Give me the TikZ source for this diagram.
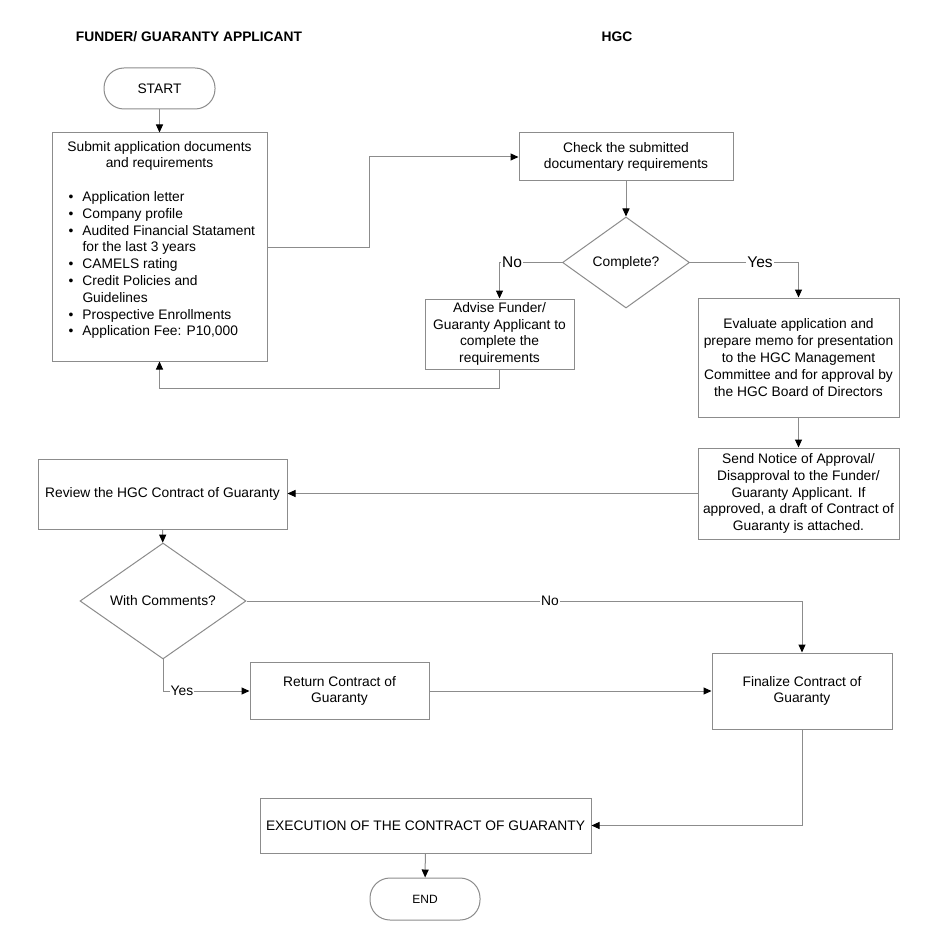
\documentclass[tikz,border=0pt]{standalone}
\usepackage{fontspec}
\setmainfont{Liberation Sans}
\usetikzlibrary{shapes.geometric,arrows.meta}
\definecolor{linegray}{RGB}{140,140,140}
\newcommand\bodyfont{\fontsize{13.8}{16.8}\selectfont}
\newcommand\labfont{\fontsize{15.5}{18}\selectfont}
\begin{document}
\begin{tikzpicture}[x=1pt,y=-1pt,
  box/.style={draw=linegray, line width=1pt, inner sep=0pt, align=center, font=\bodyfont},
  term/.style={box, rounded corners=20pt},
  decision/.style={box, diamond},
  conn/.style={draw=linegray, line width=1pt},
  arr/.style={conn, -{Triangle[length=8pt,width=7pt,color=black,fill=black]}},
  lab/.style={fill=white, inner sep=1pt, font=\bodyfont},
  biglab/.style={fill=white, inner sep=1pt, font=\labfont},
  title/.style={font=\bodyfont\bfseries, inner sep=0pt}]
\useasboundingbox (0,0) rectangle (939,941);
\fill[white] (0,0) rectangle (939,941);

\node[title] (t1) at (189,37) {FUNDER/ GUARANTY APPLICANT};
\node[title] (t2) at (617,37) {HGC};

\node[term, minimum width=111pt, minimum height=41pt] (start) at (159.5,88.5) {START};

\node[box, minimum width=215pt, minimum height=228pt] (submit) at (159.5,247)
{\begin{minipage}[c]{190pt}
{\centering Submit application documents\\and requirements\par}
\vspace{16.8pt}
\begin{tabular}[t]{@{}p{18pt}@{}l@{}}
\hspace*{4pt}\textbullet & Application letter\\
\hspace*{4pt}\textbullet & Company profile\\
\hspace*{4pt}\textbullet & Audited Financial Statament\\
 & for the last 3 years\\
\hspace*{4pt}\textbullet & CAMELS rating\\
\hspace*{4pt}\textbullet & Credit Policies and\\
 & Guidelines\\
\hspace*{4pt}\textbullet & Prospective Enrollments\\
\hspace*{4pt}\textbullet & Application Fee: P10,000
\end{tabular}\par
\vspace*{12pt}
\end{minipage}};

\node[box, minimum width=214pt, minimum height=48pt] (check) at (626,157)
  {Check the submitted\\documentary requirements};
\node[decision, minimum width=127pt, minimum height=91pt] (complete) at (626,262.5) {Complete?};
\node[box, minimum width=149pt, minimum height=70pt] (advise) at (499.5,334)
  {Advise Funder/\\Guaranty Applicant to\\complete the\\requirements};
\node[box, minimum width=201pt, minimum height=119pt] (evaluate) at (798.5,357.5)
  {Evaluate application and\\prepare memo for presentation\\to the HGC Management\\Committee and for approval by\\the HGC Board of Directors};
\node[box, minimum width=201pt, minimum height=91pt] (notice) at (798.5,493.5)
  {Send Notice of Approval/\\Disapproval to the Funder/\\Guaranty Applicant. If\\approved, a draft of Contract of\\Guaranty is attached.};
\node[box, minimum width=249pt, minimum height=70pt] (review) at (162.5,494)
  {Review the HGC Contract of Guaranty};
\node[decision, minimum width=166pt, minimum height=82pt] (comments) at (163,601) {With Comments?};
\node[box, minimum width=179pt, minimum height=57pt] (return) at (339.5,691)
  {Return Contract of\\Guaranty};
\node[box, minimum width=180pt, minimum height=76pt] (finalize) at (802,691)
  {Finalize Contract of\\Guaranty};
\node[box, minimum width=331pt, minimum height=55pt] (execution) at (425.5,825.5)
  {EXECUTION OF THE CONTRACT OF GUARANTY};
\node[term, minimum width=110pt, minimum height=42pt, font=\fontsize{12}{14}\selectfont] (end) at (425,899) {END};

% connectors
\draw[arr] (start) -- (submit);
\draw[arr] (submit.east) -- ++(102,0) |- (check.west);
\draw[arr] (check) -- (complete);
\draw[arr] (complete.west) -| (advise.north);
\node[biglab] (no1) at (512,262) {No};
\draw[arr] (complete.east) -| (evaluate.north);
\node[biglab] (yes1) at (760,262) {Yes};
\draw[arr] (advise.south) -- ++(0,19) -| (submit.south);
\draw[arr] (evaluate) -- (notice);
\draw[arr] (notice.west) -- (notice.west -| review.east);
\draw[arr] (review) -- (comments);
\draw[arr] (comments.east) -| (finalize.north);
\node[lab] (no2) at (550,601) {No};
\draw[arr] (comments.south) |- (return.west);
\node[lab] (yes2) at (182,691) {Yes};
\draw[arr] (return) -- (finalize);
\draw[arr] (finalize.south) |- (execution.east);
\draw[arr] (execution) -- (end);
\end{tikzpicture}
\end{document}
